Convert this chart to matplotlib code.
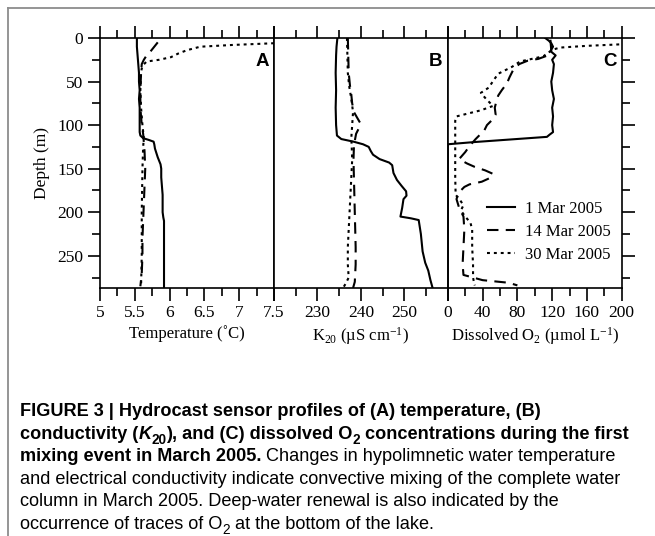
import numpy as np
import matplotlib.pyplot as plt
from matplotlib.ticker import MultipleLocator, FixedLocator, FixedFormatter
from matplotlib.lines import Line2D

plt.rcParams['font.family'] = ['Liberation Serif', 'DejaVu Serif']
plt.rcParams['mathtext.fontset'] = 'custom'
plt.rcParams['mathtext.rm'] = 'Liberation Serif'
plt.rcParams['mathtext.it'] = 'Liberation Serif:italic'
plt.rcParams['mathtext.bf'] = 'Liberation Serif:bold'

# ---- (A) temperature profiles (depth m, deg C) ----
t_d_0301 = [0, 10, 20, 30, 40, 50, 60, 70, 80, 90, 100, 108, 112, 115, 117, 119, 122, 127, 132, 137,
            141, 145, 150, 160, 170, 180, 190, 200, 206, 210, 220, 240, 260, 287]
t_v_0301 = [5.53, 5.53, 5.54, 5.55, 5.56, 5.56, 5.57, 5.56, 5.57, 5.57, 5.57, 5.57, 5.58, 5.62, 5.70,
            5.77, 5.78, 5.79, 5.81, 5.83, 5.85, 5.87, 5.88, 5.88, 5.89, 5.90, 5.90, 5.90, 5.91, 5.92,
            5.92, 5.92, 5.92, 5.92]
t_d_0314 = [5, 8, 12, 16, 20, 25, 30, 40, 60, 80, 100, 110, 120, 130, 150, 170, 190, 210, 230, 250, 270, 285]
t_v_0314 = [5.83, 5.80, 5.76, 5.72, 5.67, 5.63, 5.60, 5.59, 5.58, 5.58, 5.60, 5.62, 5.63, 5.64, 5.65,
            5.64, 5.63, 5.62, 5.61, 5.61, 5.60, 5.58]
t_d_0330 = [5, 6, 8, 10, 14, 18, 22, 25, 27, 31, 35, 40, 60, 80, 100, 115, 125, 150, 200, 250, 285]
t_v_0330 = [7.6, 7.5, 6.9, 6.44, 6.25, 6.12, 6.02, 5.85, 5.67, 5.62, 5.60, 5.59, 5.58, 5.59, 5.61, 5.63,
            5.62, 5.61, 5.60, 5.60, 5.59]

# ---- (B) conductivity K20 profiles (uS/cm) ----
k_d_0301 = [0, 10, 20, 40, 60, 80, 100, 112, 116, 119, 122, 125, 130, 134, 139, 143, 146, 155, 163,
            170, 176, 181, 185, 195, 205, 207, 209, 225, 245, 258, 267, 278, 287]
k_v_0301 = [234.6, 234.4, 234.3, 234.2, 234.3, 234.2, 234.3, 234.5, 235.5, 238.3, 240.5, 241.8, 242.3,
            242.8, 244.3, 246.5, 247.2, 247.5, 248.3, 249.4, 250.4, 250.5, 249.8, 249.5, 249.1, 251.5,
            253.3, 253.8, 254.2, 254.8, 255.5, 256.0, 256.5]
k_d_0314 = [0, 20, 40, 55, 65, 75, 85, 92, 98, 104, 110, 118, 125, 140, 160, 180, 200, 220, 240, 260, 280, 287]
k_v_0314 = [237.0, 237.1, 237.2, 237.5, 237.8, 238.0, 238.4, 239.2, 239.9, 239.5, 238.9, 238.6, 238.4,
            238.3, 238.4, 238.5, 238.6, 238.7, 238.8, 238.8, 238.6, 238.2]
k_d_0330 = [0, 20, 40, 55, 70, 85, 100, 115, 125, 140, 160, 180, 200, 220, 240, 260, 275, 282, 287]
k_v_0330 = [236.8, 236.9, 237.0, 237.3, 237.8, 238.2, 238.0, 237.8, 237.9, 238.0, 237.8, 237.6, 237.4,
            237.2, 237.0, 237.0, 237.2, 236.5, 235.9]

# ---- (C) dissolved O2 profiles (umol/L) ----
o_d_0301 = [0, 3, 6, 10, 15, 20, 25, 30, 40, 50, 60, 70, 80, 90, 100, 108, 111, 113.5, 119.5, 122, 150, 200, 250, 287]
o_v_0301 = [112, 116, 119, 121, 118, 124, 120, 122, 121, 119, 120, 122, 120, 121, 120, 121, 117, 114,
            30, 0, 0, 0, 0, 0]
o_d_0314 = [2, 15, 20, 24, 26, 30, 37, 45, 52, 60, 66, 72, 80, 88, 95, 100, 106, 110, 116, 124, 131,
            139, 144, 148, 152, 156, 160, 165, 168, 171, 178, 185, 195, 205, 220, 240, 260, 272, 278, 281, 284]
o_v_0314 = [118, 119, 115, 104, 92, 82, 75, 71, 68, 62, 58, 56, 54, 55, 50, 45, 42, 38, 32, 25, 20,
            13, 22, 31, 43, 52, 50, 39, 25, 19, 12, 10, 13, 18, 19, 18, 17, 18, 40, 70, 80]
o_d_0330 = [7, 9, 11, 13, 17, 21, 27, 33, 41, 48, 57, 63, 70, 78, 83, 87, 90, 95, 110, 120, 140, 160,
            180, 186, 192, 198, 205, 212, 220, 240, 260, 275, 280, 284]
o_v_0330 = [205, 160, 129, 122, 115, 110, 83, 74, 58, 53, 47, 38, 44, 52, 38, 22, 10, 8.5, 8.5, 8.5,
            8.5, 8.5, 9, 14, 18, 15, 20, 26, 28, 28, 29, 29, 30, 31]

dates = ['1 Mar 2005', '14 Mar 2005', '30 Mar 2005']

temp_ticks = [5, 5.5, 6, 6.5, 7, 7.5]
cond_ticks = [220, 230, 240, 250, 260]
cond_labels = ['', '230', '240', '250', '']
oxy_ticks = [0, 40, 80, 120, 160, 200]

lw = 1.5
dash = (0, (5.5, 3.5))
dot = (0, (1.4, 1.9))
styles = ['-', dash, dot]

fig, axes = plt.subplots(1, 3, sharey=True, figsize=(6.55, 5.36), dpi=100)
plt.subplots_adjust(left=0.1527, right=0.9492, bottom=0.4627, top=0.9291, wspace=0)
ax_a, ax_b, ax_c = axes

for ax, series in [(ax_a, [(t_v_0301, t_d_0301), (t_v_0314, t_d_0314), (t_v_0330, t_d_0330)]),
                   (ax_b, [(k_v_0301, k_d_0301), (k_v_0314, k_d_0314), (k_v_0330, k_d_0330)]),
                   (ax_c, [(o_v_0301, o_d_0301), (o_v_0314, o_d_0314), (o_v_0330, o_d_0330)])]:
    for (v, d), ls, lab in zip(series, styles, dates):
        ax.plot(v, d, color='black', linestyle=ls, linewidth=lw, label=lab)
    for s in ax.spines.values():
        s.set_linewidth(1.2)
    ax.tick_params(axis='both', which='both', direction='out', width=1.2, top=True,
                   labelsize=12.5, pad=3)
    ax.tick_params(which='major', length=9)
    ax.tick_params(which='minor', length=5.5)

ax_a.set_xlim(5, 7.5)
ax_a.xaxis.set_major_locator(FixedLocator(temp_ticks))
ax_a.xaxis.set_major_formatter(FixedFormatter([f'{t:g}' for t in temp_ticks]))
ax_a.xaxis.set_minor_locator(MultipleLocator(0.25))

ax_b.set_xlim(220, 260)
ax_b.xaxis.set_major_locator(FixedLocator(cond_ticks))
ax_b.xaxis.set_major_formatter(FixedFormatter(cond_labels))
ax_b.xaxis.set_minor_locator(MultipleLocator(5))

ax_c.set_xlim(0, 200)
ax_c.xaxis.set_major_locator(FixedLocator(oxy_ticks))
ax_c.xaxis.set_major_formatter(FixedFormatter([str(t) for t in oxy_ticks]))
ax_c.xaxis.set_minor_locator(MultipleLocator(20))

ax_a.set_ylim(287, 0)
ax_a.yaxis.set_major_locator(MultipleLocator(50))
ax_a.yaxis.set_minor_locator(MultipleLocator(25))
ax_a.tick_params(axis='y', which='both', left=True, right=False)
ax_b.tick_params(axis='y', which='both', left=False, right=False)
ax_c.tick_params(axis='y', which='both', left=False, right=True, labelright=False)

ax_a.set_ylabel('Depth (m)', fontsize=12.5, labelpad=5)
ax_a.set_xlabel('Temperature (˚C)', fontsize=12, labelpad=3)
ax_b.set_xlabel(r'K$_\mathrm{20}$ (µS cm$^\mathrm{-1}$)', fontsize=12, labelpad=3)
ax_c.set_xlabel(r'Dissolved O$_\mathrm{2}$ (µmol L$^\mathrm{-1}$)', fontsize=12, labelpad=3)

for ax, letter in zip(axes, 'ABC'):
    ax.text(0.97, 0.942, letter, transform=ax.transAxes, ha='right', va='top',
            family='Liberation Sans', fontweight='bold', fontsize=13.5)

ax_c.legend(loc='lower right', bbox_to_anchor=(0.935, 0.1), frameon=False, fontsize=12,
            handlelength=1.65, handletextpad=0.6, labelspacing=0.42, borderpad=0, borderaxespad=0)

# light frame of the figure panel (top and left edge)
fig.add_artist(Line2D([8 / 655, 1.0], [1 - 8 / 536, 1 - 8 / 536], color='#8c8c8c', linewidth=1.3))
fig.add_artist(Line2D([8 / 655, 8 / 655], [0, 1 - 8 / 536], color='#8c8c8c', linewidth=1.3))

# ---- caption ----
cap_size = 13.1
renderer = fig.canvas.get_renderer()


def space_width(weight, style):
    a = fig.text(0, 0, 'x x', fontsize=cap_size, family='Liberation Sans', fontweight=weight, fontstyle=style)
    b = fig.text(0, 0, 'xx', fontsize=cap_size, family='Liberation Sans', fontweight=weight, fontstyle=style)
    w = a.get_window_extent(renderer).width - b.get_window_extent(renderer).width
    a.remove()
    b.remove()
    return w


def rich_line(x, y_top, pieces):
    y = 536 - y_top
    for txt, weight, style, sub in pieces:
        if txt.startswith(' '):
            x += space_width(weight, style)
            txt = txt.lstrip(' ')
        fs = cap_size * 0.75 if sub else cap_size
        dy = -cap_size * 0.28 * 100 / 72 if sub else 0
        t = fig.text(x, y + dy, txt, transform=None, fontsize=fs, family='Liberation Sans',
                     fontweight=weight, fontstyle=style, va='baseline', ha='left')
        x += t.get_window_extent(renderer).width


B, N = 'bold', 'normal'
caption = [
    [('FIGURE 3 | Hydrocast sensor profiles of (A) temperature, (B)', B, N, False)],
    [('conductivity (', B, N, False), ('K', B, 'italic', False), ('20', B, N, True),
     ('), and (C) dissolved O', B, N, False), ('2', B, N, True),
     (' concentrations during the first', B, N, False)],
    [('mixing event in March 2005.', B, N, False),
     (' Changes in hypolimnetic water temperature', N, N, False)],
    [('and electrical conductivity indicate convective mixing of the complete water', N, N, False)],
    [('column in March 2005. Deep-water renewal is also indicated by the', N, N, False)],
    [('occurrence of traces of O', N, N, False), ('2', N, N, True),
     (' at the bottom of the lake.', N, N, False)],
]
for i, pieces in enumerate(caption):
    rich_line(20, 416 + i * 22.6, pieces)

fig.savefig('out.png', dpi=100)
